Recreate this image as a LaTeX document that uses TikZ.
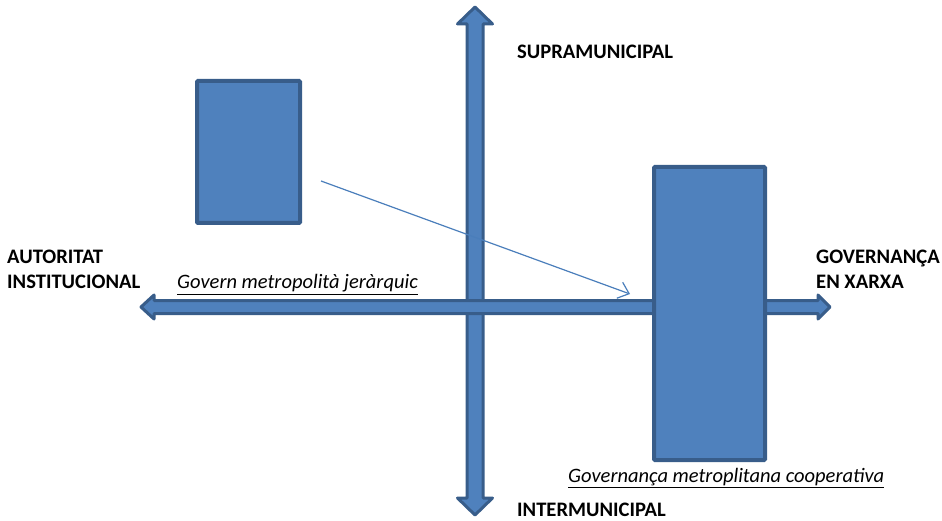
\documentclass[tikz,border=0pt]{standalone}
\usepackage{fontspec}
\setmainfont{Carlito}
\usetikzlibrary{arrows.meta}
\definecolor{boxfill}{HTML}{4F81BD}
\definecolor{boxline}{HTML}{385D8A}
\definecolor{thinline}{HTML}{4A7EBB}
\begin{document}
\begin{tikzpicture}[x=1pt, y=-1pt,
		box/.style = {draw=boxline, fill=boxfill, line width=4pt, rounded corners=1pt, inner sep=0pt},
		axis/.style = {draw=boxline, fill=boxfill, line width=3pt, line join=round},
		lab/.style = {font=\bfseries\fontsize{20.6}{25}\selectfont, align=left, inner sep=0pt, anchor=base west},
		kind/.style = {font=\itshape\fontsize{20.5}{25}\selectfont, inner sep=0pt, anchor=base west}]
	\useasboundingbox (0,0) rectangle (942,521);
	% axes
	\draw[axis] (475,7) -- (457.5,24) -- (467,24) -- (467,498) -- (457.5,498) -- (475,515)
		-- (492.5,498) -- (483,498) -- (483,24) -- (492.5,24) -- cycle;
	\draw[axis] (141,307) -- (154,295) -- (154,300.5) -- (818,300.5) -- (818,295) -- (830,307)
		-- (818,319) -- (818,313.5) -- (154,313.5) -- (154,319) -- cycle;
	% boxes
	\node[box, minimum width=103pt, minimum height=142pt] (jerarquic) at (248.5,152) {};
	\node[box, minimum width=111pt, minimum height=293pt] (cooperativa) at (709.5,313.5) {};
	\coordinate (from) at (321,181);
	\coordinate (to) at (630,294);
	\draw[-{Straight Barb[length=10pt, width=17pt]}, thinline, line width=1.2pt] (from) -- (to);
	% labels
	\node[lab] (supra) at (517,59) {SUPRAMUNICIPAL};
	\node[lab] (inter) at (517,516) {INTERMUNICIPAL};
	\node[lab] (autoritat) at (7,289) {AUTORITAT\\INSTITUCIONAL};
	\node[lab] (xarxa) at (816,289) {GOVERNANÇA\\EN XARXA};
	\node[kind] (govern) at (177,289) {\underline{Govern metropolità jeràrquic}};
	\node[kind] (governanca) at (568,482) {\underline{Governança metroplitana cooperativa}};
\end{tikzpicture}
\end{document}
